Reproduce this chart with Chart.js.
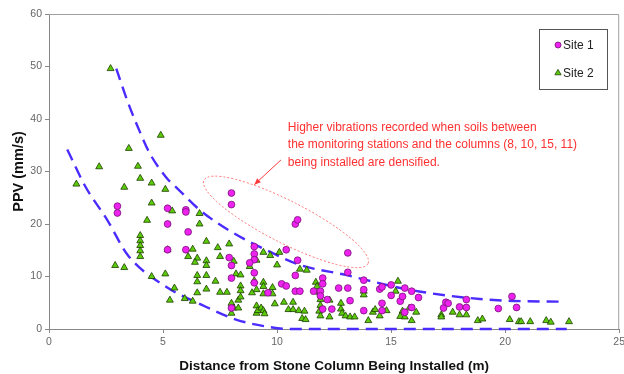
<!DOCTYPE html>
<html>
<head>
<meta charset="utf-8">
<script src="https://cdn.jsdelivr.net/npm/chart.js@4.4.1/dist/chart.umd.min.js"></script>
<style>
html,body{margin:0;padding:0;background:#fff;}
#wrap{position:relative;width:624px;height:374px;}
</style>
</head>
<body>
<div id="wrap"><canvas id="c" width="624" height="374"></canvas></div>
<script>
// ---- data ----
const xTicks = [0, 5, 10, 15, 20, 25];
const yTicks = [0, 10, 20, 30, 40, 50, 60];

const site1X = [3.0,3.0,5.2,5.2,5.2,6.0,6.0,6.1,6.0,8.0,8.0,7.9,8.0,8.0,8.0,9.0,9.0,9.0,8.8,9.0,9.0,9.6,10.2,10.4,10.4,10.8,10.9,10.9,10.8,10.8,11.0,11.6,11.9,11.9,12.0,12.0,12.0,12.2,12.4,12.7,13.1,13.1,13.1,13.2,13.8,13.8,13.8,14.5,14.6,14.6,14.6,15.0,15.0,15.4,15.5,15.6,15.6,15.9,15.9,16.2,17.3,17.4,17.5,18.0,18.3,18.3,19.7,20.3,20.5];
const site1Y = [23.4,22.1,23.0,20.0,15.1,22.7,22.3,18.5,15.1,25.9,23.7,13.6,12.1,9.7,4.0,15.7,14.3,13.2,12.6,10.7,8.8,6.9,8.6,8.2,15.1,20.0,20.8,13.1,10.2,7.2,7.2,7.2,7.2,6.3,9.7,8.6,3.8,5.6,3.8,7.8,7.8,10.8,14.5,5.4,9.3,7.5,3.5,7.6,8.0,4.9,3.5,8.4,6.4,5.3,6.2,7.8,3.2,7.2,4.1,6.0,4.0,5.1,4.9,4.2,5.6,4.1,3.9,6.2,4.1];

const site2X = [1.2,2.2,2.7,2.9,3.3,3.3,3.5,3.9,4.0,4.0,4.0,4.0,4.0,4.0,4.3,4.5,4.5,4.5,4.9,5.1,5.1,5.2,5.3,5.4,5.5,5.95,6.3,6.3,6.1,6.5,6.4,6.5,6.5,6.5,6.6,6.6,6.9,6.9,6.9,6.9,6.9,7.3,7.4,7.5,7.5,7.8,7.9,8.0,8.0,8.1,8.1,8.2,8.3,8.3,8.4,8.4,8.4,8.4,8.8,8.9,9.0,9.1,9.1,9.1,9.1,9.15,9.3,9.4,9.4,9.4,9.4,9.4,9.45,9.7,9.8,9.8,9.9,10.0,10.1,10.3,10.5,10.7,10.7,10.95,11.0,11.2,11.1,11.3,11.25,11.7,11.75,11.85,11.9,11.9,11.85,11.9,12.3,12.3,12.8,12.8,12.85,13.0,13.2,13.4,13.8,13.8,14.0,14.2,14.3,14.5,14.8,15.2,15.3,15.5,15.4,15.6,15.8,15.9,16.1,17.2,17.2,17.7,18.0,18.3,18.8,19.0,20.2,20.6,20.7,21.1,21.8,22.0,22.8];
const site2Y = [27.6,30.9,49.6,12.1,11.7,27.0,34.4,31.0,28.7,17.8,16.8,15.9,14.9,13.8,20.7,27.8,24.0,10.0,36.9,26.6,10.5,15.1,5.5,22.5,7.8,5.8,5.3,15.2,13.8,13.5,12.7,10.2,9.0,6.9,22.0,20.0,16.7,13.0,12.1,10.2,7.6,9.1,15.5,13.8,7.0,7.0,16.2,4.9,3.0,4.0,12.9,10.5,4.0,5.5,10.3,8.2,7.3,6.1,11.9,6.9,9.2,13.1,7.5,4.4,3.0,3.5,4.0,14.6,8.9,8.1,6.7,3.5,2.9,14.0,6.7,7.9,4.8,12.2,14.6,5.1,3.7,5.1,3.7,3.5,11.4,3.4,2.0,11.2,1.8,8.9,8.1,7.0,5.6,4.5,3.4,2.5,5.5,2.3,4.9,3.8,3.0,2.5,2.3,2.3,7.2,6.5,1.6,3.2,3.7,2.5,3.5,7.2,9.1,3.4,2.4,2.3,4.0,1.6,3.2,2.7,2.3,3.2,2.7,2.7,1.6,1.9,1.8,1.4,1.4,1.4,1.6,1.3,1.4];

// dashed envelope curves
const upperX = [2.95,3.45,4.0,4.4,5.15,5.6,6.6,8.0,9.5,11.0,13.0,15.3,16.3,18.2,20.0,22.6];
const upperY = [49.6,43.3,37.4,33.6,28.8,26.9,22.7,18.5,15.1,12.2,10.3,7.9,7.1,6.0,5.4,5.2];
const lowerX = [0.8,1.6,2.55,3.45,5.15,6.7,8.2,9.5,10.5,12.0,22.7];
const lowerY = [34.2,27.1,20.8,14.1,8.0,4.6,1.8,0.5,0.0,0.0,0.0];

const annotationLines = [
  "Higher vibrations recorded when soils between",
  "the monitoring stations and the columns (8, 10, 15, 11)",
  "being installed are densified."
];
// ------------------------------------

const zip = (xs, ys) => xs.map((x, i) => ({x: x, y: ys[i]}));
const FONT = "'Liberation Sans', Arial, sans-serif";
const LINE_COLOR = '#4a2cff';

const annotationPlugin = {
  id: 'annot',
  afterDatasetsDraw(chart) {
    const ctx = chart.ctx, xs = chart.scales.x, ys = chart.scales.y;
    ctx.save();
    // dotted ellipse
    const cx = xs.getPixelForValue(10.39), cy = ys.getPixelForValue(20.4);
    ctx.beginPath();
    ctx.setLineDash([2, 2]);
    ctx.strokeStyle = '#ff7070';
    ctx.lineWidth = 1;
    ctx.ellipse(cx, cy, 92, 21, 27 * Math.PI / 180, 0, Math.PI * 2);
    ctx.stroke();
    ctx.setLineDash([]);
    // arrow
    const ax1 = xs.getPixelForValue(10.17), ay1 = ys.getPixelForValue(32.2);
    const ax2 = xs.getPixelForValue(9.0), ay2 = ys.getPixelForValue(27.5);
    ctx.strokeStyle = '#ff3b3b';
    ctx.fillStyle = '#ff3b3b';
    ctx.lineWidth = 1;
    ctx.beginPath(); ctx.moveTo(ax1, ay1); ctx.lineTo(ax2, ay2); ctx.stroke();
    const ang = Math.atan2(ay2 - ay1, ax2 - ax1);
    ctx.beginPath();
    ctx.moveTo(ax2, ay2);
    ctx.lineTo(ax2 - 7 * Math.cos(ang - 0.4), ay2 - 7 * Math.sin(ang - 0.4));
    ctx.lineTo(ax2 - 7 * Math.cos(ang + 0.4), ay2 - 7 * Math.sin(ang + 0.4));
    ctx.closePath(); ctx.fill();
    // text
    ctx.font = '12px ' + FONT;
    ctx.fillStyle = '#ff3030';
    ctx.textAlign = 'left';
    ctx.textBaseline = 'middle';
    const tx = xs.getPixelForValue(10.47);
    const ty = ys.getPixelForValue(38.4);
    annotationLines.forEach((t, i) => ctx.fillText(t, tx, ty + i * 17.5));
    ctx.restore();
  },
  afterDraw(chart) {
    const ctx = chart.ctx, a = chart.chartArea;
    ctx.save();
    // top/right plot border
    ctx.strokeStyle = '#a0a0a0';
    ctx.lineWidth = 1;
    ctx.beginPath();
    ctx.moveTo(a.left, a.top + 0.5); ctx.lineTo(a.right - 0.5, a.top + 0.5); ctx.lineTo(a.right - 0.5, a.bottom);
    ctx.stroke();
    // legend box
    const lx = 539.5, ly = 29.5, lw = 68, lh = 60;
    ctx.fillStyle = '#fff';
    ctx.fillRect(lx, ly, lw, lh);
    ctx.strokeStyle = '#555';
    ctx.strokeRect(lx, ly, lw, lh);
    const ds = chart.data.datasets;
    [0, 1].forEach((k, i) => {
      const d = ds[k];
      const my = 45 + i * 28, mx = 558;
      ctx.fillStyle = d.backgroundColor;
      ctx.strokeStyle = d.borderColor;
      ctx.lineWidth = 0.8;
      ctx.beginPath();
      if (d.pointStyle === 'triangle') {
        const r = 3.6;
        ctx.moveTo(mx, my - r); ctx.lineTo(mx + r * 0.866, my + r / 2); ctx.lineTo(mx - r * 0.866, my + r / 2); ctx.closePath();
      } else {
        ctx.arc(mx, my, 3, 0, Math.PI * 2);
      }
      ctx.fill(); ctx.stroke();
      ctx.fillStyle = '#222';
      ctx.font = '12px ' + FONT;
      ctx.textAlign = 'left';
      ctx.textBaseline = 'middle';
      ctx.fillText(d.label, 563, my + 1);
    });
    ctx.restore();
  }
};

new Chart(document.getElementById('c'), {
  type: 'scatter',
  data: {
    datasets: [
      {
        label: 'Site 1', data: zip(site1X, site1Y), pointStyle: 'circle',
        backgroundColor: '#ee22ee', borderColor: '#7a107a', borderWidth: 0.8,
        pointRadius: 3.4, order: 1
      },
      {
        label: 'Site 2', data: zip(site2X, site2Y), pointStyle: 'triangle',
        backgroundColor: '#5ccc0a', borderColor: '#1d3d00', borderWidth: 0.8,
        pointRadius: 4, order: 1
      },
      {
        type: 'line', label: 'upper', data: zip(upperX, upperY), showLine: true,
        borderColor: LINE_COLOR, borderWidth: 2.4, borderDash: [12, 7], pointRadius: 0,
        cubicInterpolationMode: 'monotone', fill: false, clip: false, order: 2
      },
      {
        type: 'line', label: 'lower', data: zip(lowerX, lowerY), showLine: true,
        borderColor: LINE_COLOR, borderWidth: 2.4, borderDash: [12, 7], pointRadius: 0,
        cubicInterpolationMode: 'monotone', fill: false, clip: false, order: 2
      }
    ]
  },
  options: {
    responsive: false,
    animation: false,
    events: [],
    layout: {padding: {left: 0, right: 3, top: 14, bottom: 0}},
    plugins: {legend: {display: false}, tooltip: {enabled: false}},
    scales: {
      x: {
        type: 'linear', min: 0, max: 25,
        afterBuildTicks: s => { s.ticks = xTicks.map(v => ({value: v})); },
        afterFit: s => { s.height = 45; s.paddingLeft = 0; s.paddingRight = 0; },
        grid: {display: true, drawOnChartArea: false, drawTicks: true, tickLength: 4, color: '#888'},
        border: {display: true, color: '#888', width: 1, z: -1},
        ticks: {color: '#666', font: {family: FONT, size: 10.5}, padding: 3, maxRotation: 0},
        title: {display: true, text: 'Distance from Stone Column Being Installed (m)',
          color: '#111', font: {family: FONT, size: 13.5, weight: 'bold'}, padding: {top: 0, bottom: 0}}
      },
      y: {
        type: 'linear', min: 0, max: 60,
        afterBuildTicks: s => { s.ticks = yTicks.map(v => ({value: v})); },
        afterFit: s => { s.width = 49; s.paddingTop = 0; s.paddingBottom = 0; },
        grid: {display: true, drawOnChartArea: false, drawTicks: true, tickLength: 4, color: '#888'},
        border: {display: true, color: '#888', width: 1},
        ticks: {color: '#666', font: {family: FONT, size: 10.5}, padding: 3},
        title: {display: true, text: 'PPV (mm/s)',
          color: '#111', font: {family: FONT, size: 14.5, weight: 'bold'}, padding: {top: 10, bottom: 0}}
      }
    }
  },
  plugins: [annotationPlugin]
});
</script>
</body>
</html>
